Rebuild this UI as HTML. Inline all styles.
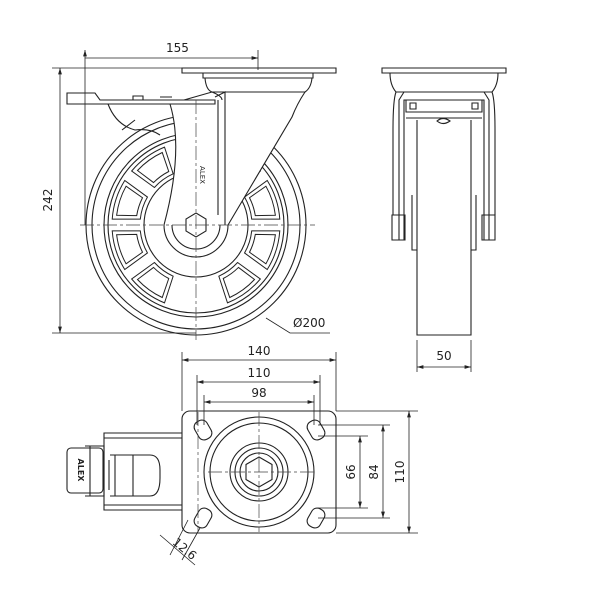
<!DOCTYPE html>
<html><head><style>body{margin:0;background:#fff}svg{display:block}text{font-family:"DejaVu Sans","Liberation Sans",sans-serif;fill:#222}</style></head><body>
<svg width="600" height="600" viewBox="0 0 600 600" xmlns="http://www.w3.org/2000/svg">
<defs><marker id="a" viewBox="0 0 10 6" refX="10" refY="3" markerWidth="8" markerHeight="5" orient="auto-start-reverse"><path d="M0,0L10,3L0,6z" fill="#222"/></marker>
<g id="w"><path d="M54.8,-11.6 L81.5,-20.3 A84,84 0 0 1 81.5,20.3 L54.8,11.6 A56,56 0 0 0 54.8,-11.6Z"/><path d="M59.3,-9.4 L78.5,-15.3 A80,80 0 0 1 78.5,15.3 L59.3,9.4 A60,60 0 0 0 59.3,-9.4Z"/></g>
</defs>
<g fill="none" stroke="#222" stroke-width="1.1">
<circle cx="196" cy="225" r="110"/>
<circle cx="196" cy="225" r="104"/>
<circle cx="196" cy="225" r="92"/>
<circle cx="196" cy="225" r="88"/>
<circle cx="196" cy="225" r="52"/>
<g transform="translate(196,225)" stroke-width="1">
<use href="#w" transform="rotate(18)"/><use href="#w" transform="rotate(54)"/><use href="#w" transform="rotate(126)"/><use href="#w" transform="rotate(162)"/><use href="#w" transform="rotate(198)"/><use href="#w" transform="rotate(234)"/><use href="#w" transform="rotate(-18)"/><use href="#w" transform="rotate(-54)"/>
</g>
<path fill="#fff" d="M170,104 Q184,150 164,225 A32,32 0 0 0 228,225 L292,117 Q297,104 305,92 H212 Z"/>
<path d="M172,225 A24,24 0 0 0 220,225"/>
<path d="M182,68H336V73H182Z"/>
<path fill="#fff" d="M203,73H313V78H203Z M205,78Q206,90 212,92H305Q311,88 312,78"/>
<path fill="#fff" d="M67,93H95L100,100H215V104H67Z"/>
<path d="M108,104Q116,125 135,130Q150,128 160,135"/>
<path d="M215,97L225,92V225 M218,100V215"/>
<path d="M212,92Q222,96 222,100"/>
<polygon fill="#fff" points="196,213 206,219 206,231 196,237 186,231 186,219"/>
<path d="M122,130L135,120 M133,100h10v-4h-10z M160,97h12"/>
<path d="M382,68H506V73H382Z M390,73H498Q498,85 492,92H396Q390,85 390,73Z"/>
<path d="M396,92Q393,100 393,130V215 M492,92Q495,100 495,130V215"/>
<path d="M404,92H484L489,100V240H484V100H404V240H399V100Z"/>
<path d="M406,100H482V112H406Z M410,103h6v6h-6z M472,103h6v6h-6z M406,118H482"/>
<path d="M417,120V335H471V120 M412,195V250H417 M476,195V250H471"/>
<path d="M437,121Q443,126 450,121Q443,116 437,121Z"/>
<path d="M392,215h13v25h-13z M482,215h13v25h-13z"/>
<rect x="182" y="411" width="154" height="122" rx="8"/>
<circle cx="259" cy="472" r="55"/><circle cx="259" cy="472" r="49"/>
<circle cx="259" cy="472" r="29"/><circle cx="259" cy="472" r="24"/><circle cx="259" cy="472" r="19"/>
<polygon points="259,457 272,464.5 272,479.5 259,487 246,479.5 246,464.5"/>
<g transform="rotate(-30 203 430)"><rect x="196" y="420" width="14" height="20" rx="6"/></g>
<g transform="rotate(60 316 430)"><rect x="306" y="423" width="20" height="14" rx="6"/></g>
<g transform="rotate(30 203 518)"><rect x="196" y="508" width="14" height="20" rx="6"/></g>
<g transform="rotate(-60 316 518)"><rect x="306" y="511" width="20" height="14" rx="6"/></g>
<path d="M182,433H104V510H182 M104,438H182 M104,505H182"/>
<rect x="67" y="448" width="36" height="45" rx="4"/>
<path d="M85,446H104V496H85 M90,446V496"/>
<path d="M110,455H150Q160,455 160,470V478Q160,496 150,496H110 M115,455V496 M133,455V496"/>
<path d="M109,460V490"/>
</g>
<g stroke="#444" stroke-width="0.7" stroke-dasharray="14,3,3,3" fill="none">
<path d="M80,225H315 M196,100V340 M198,412V532 M208,472H315 M259,412V532"/>
</g>
<g stroke="#222" stroke-width="0.8" fill="none">
<path d="M85,50V225 M258,50V70 M85,58H258" marker-start="url(#a)" marker-end="url(#a)"/>
<path d="M52,68H182 M52,333H196"/>
<path d="M60,68V333" marker-start="url(#a)" marker-end="url(#a)"/>
<path d="M266,318L290,333H330"/>
<path d="M417,340V372 M471,340V372"/>
<path d="M417,367H471" marker-start="url(#a)" marker-end="url(#a)"/>
<path d="M182,352V411 M336,352V411 M197,375V425 M320,375V425 M204,395V425 M314,395V425"/>
<path d="M182,360H336" marker-start="url(#a)" marker-end="url(#a)"/>
<path d="M197,382H320" marker-start="url(#a)" marker-end="url(#a)"/>
<path d="M204,402H314" marker-start="url(#a)" marker-end="url(#a)"/>
<path d="M336,411H418 M336,533H418 M318,425H390 M318,518H390 M318,436H368 M318,508H368"/>
<path d="M409,411V533" marker-start="url(#a)" marker-end="url(#a)"/>
<path d="M383,425V518" marker-start="url(#a)" marker-end="url(#a)"/>
<path d="M360,436V508" marker-start="url(#a)" marker-end="url(#a)"/>
<path d="M160,535L195,565 M188,520L170,555 M200,528L182,560"/>
</g>
<g font-size="12">
<text x="166" y="52">155</text>
<text x="293" y="327">Ø200</text>
<text transform="translate(52,200) rotate(-90)" text-anchor="middle">242</text>
<text x="444" y="360" text-anchor="middle">50</text>
<text x="259" y="355" text-anchor="middle">140</text>
<text x="259" y="377" text-anchor="middle">110</text>
<text x="259" y="397" text-anchor="middle">98</text>
<text transform="translate(355,472) rotate(-90)" text-anchor="middle">66</text>
<text transform="translate(378,472) rotate(-90)" text-anchor="middle">84</text>
<text transform="translate(404,472) rotate(-90)" text-anchor="middle">110</text>
<text transform="translate(182,552) rotate(40)" text-anchor="middle">12.6</text>
<text transform="translate(78,470) rotate(90)" text-anchor="middle" font-size="8" font-weight="bold">ALEX</text>
<text transform="translate(200,175) rotate(90)" text-anchor="middle" font-size="7">ALEX</text>
</g>
</svg>
</body></html>
